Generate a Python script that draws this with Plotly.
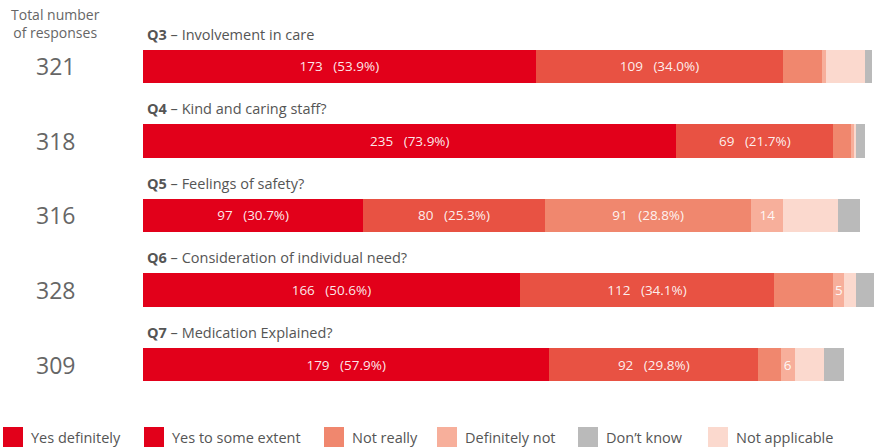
import plotly.graph_objects as go

# Survey data (counts)
questions = ["Q3", "Q4", "Q5", "Q6", "Q7"]
titles = ["Involvement in care", "Kind and caring staff?", "Feelings of safety?",
          "Consideration of individual need?", "Medication Explained?"]
totals = [321, 318, 316, 328, 309]

yes_def = [173, 235, 97, 166, 179]
yes_some = [109, 69, 80, 112, 92]
not_really = [17, 8, 91, 26, 10]
def_not = [2, 1, 14, 5, 6]
not_app = [17, 1, 24, 5, 13]
dont_know = [3, 4, 10, 14, 9]

# which small segments carry a label in the original
not_really_lbl = [False, False, True, False, False]
def_not_lbl = [False, False, True, True, True]

legend_names = ["Yes definitely", "Yes to some extent", "Not really",
                "Definitely not", "Don\u2019t know", "Not applicable"]
legend_colors = ["#E2001A", "#E2001A", "#F0876E", "#F7AF9B", "#BABABA", "#FBD9CE"]

FONT = "Open Sans"
W, H = 874, 448
L, R, T, B = 143, 0, 29, 40
PW, PH = W - L - R, H - T - B


def px2x(px):
    return (px - L) / PW


def px2y(py):
    return (H - B - py) / PH


def pct_label(vals, show=None):
    out = []
    for i, v in enumerate(vals):
        if show is not None and not show[i]:
            out.append("")
        else:
            out.append(f"{v}\u00a0\u00a0\u00a0({v / totals[i] * 100:.1f}%)")
    return out


def count_label(vals, show):
    return [str(v) if s else "" for v, s in zip(vals, show)]


series = [
    (yes_def, "#E2001A", pct_label(yes_def)),
    (yes_some, "#E85243", pct_label(yes_some)),
    (not_really, "#F0876E", pct_label(not_really, not_really_lbl)),
    (def_not, "#F7AF9B", count_label(def_not, def_not_lbl)),
    (not_app, "#FBD9CE", [""] * 5),
    (dont_know, "#BABABA", [""] * 5),
]

fig = go.Figure()
for vals, col, txt in series:
    fig.add_trace(go.Bar(
        x=vals, y=questions, orientation="h",
        marker=dict(color=col, line=dict(width=0)),
        text=txt, textposition="inside", insidetextanchor="middle",
        textangle=0, textfont=dict(family=FONT, size=13.5, color="rgba(255,255,255,0.92)"),
        showlegend=False, hoverinfo="skip",
    ))

annotations = []
# question titles above bars
for q, t in zip(questions, titles):
    annotations.append(dict(
        x=0, y=q, xref="x", yref="y", xanchor="left", yanchor="middle",
        xshift=2, yshift=32, showarrow=False,
        text=f"<b>{q}</b> \u2013 {t}",
        font=dict(family=FONT, size=14.5, color="#555555"),
    ))
# total responses on the left
for q, n in zip(questions, totals):
    annotations.append(dict(
        x=px2x(55), y=q, xref="paper", yref="y", xanchor="center", yanchor="middle",
        showarrow=False, text=str(n),
        font=dict(family=FONT, size=23, color="#666666"),
    ))
annotations.append(dict(
    x=px2x(55), y=px2y(23), xref="paper", yref="paper", xanchor="center", yanchor="middle",
    showarrow=False, text="Total number<br>of responses",
    font=dict(family=FONT, size=14, color="#666666"),
))

# legend drawn by hand (the original uses tall swatches)
shapes = []
sw_x = [3, 144, 324, 437, 578, 708]
for xs, name, col in zip(sw_x, legend_names, legend_colors):
    shapes.append(dict(
        type="rect", xref="paper", yref="paper",
        x0=px2x(xs), x1=px2x(xs + 20), y0=px2y(447), y1=px2y(427),
        fillcolor=col, line=dict(width=0),
    ))
    annotations.append(dict(
        x=px2x(xs + 26), y=px2y(437), xref="paper", yref="paper",
        xanchor="left", yanchor="middle", showarrow=False, text=name,
        font=dict(family=FONT, size=14.5, color="#555555"),
    ))

fig.update_layout(
    width=W, height=H,
    margin=dict(l=L, r=R, t=T, b=B),
    barmode="stack", bargap=0.55,
    plot_bgcolor="white", paper_bgcolor="white",
    xaxis=dict(range=[0, 322], visible=False, fixedrange=True),
    yaxis=dict(categoryorder="array", categoryarray=questions, autorange="reversed",
               visible=False, fixedrange=True),
    uniformtext=dict(minsize=13.5, mode="show"),
    annotations=annotations, shapes=shapes,
)

# drop the default page margin so the figure sits at the window's corner
fig.write_html("out.html", config={"displayModeBar": False},
               post_script="document.body.style.margin='0';")
